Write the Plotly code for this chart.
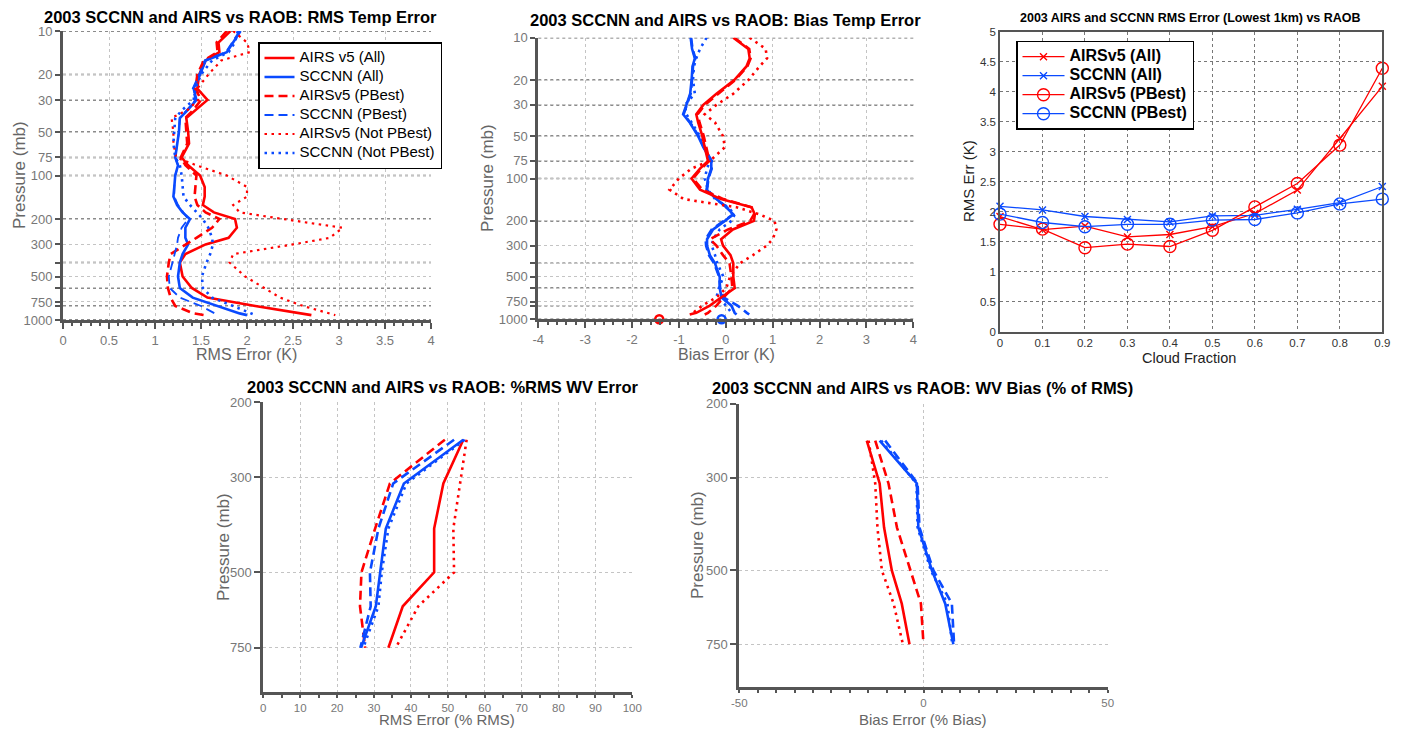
import math
import plotly.graph_objects as go

# ---------------- DATA ----------------
# Temperature profiles (pressure levels, mb)
P_T = [10, 12, 14, 16, 20, 25, 30, 35, 40, 50, 60, 75, 85, 100, 120, 140, 160, 180,
       200, 230, 270, 300, 350, 400, 500, 600, 700, 800, 900, 925]

# RMS temperature error (K)
rms_airs_all = [1.82, 1.69, 1.70, 1.55, 1.48, 1.46, 1.57, 1.45, 1.34, 1.36, 1.37, 1.29, 1.36, 1.49, 1.54,
                1.54, 1.52, 1.64, 1.87, 1.89, 1.80, 1.55, 1.33, 1.27, 1.30, 1.40, 1.57, 2.09, 2.59, 2.70]
rms_sccnn_all = [1.93, 1.85, 1.78, 1.55, 1.49, 1.42, 1.45, 1.36, 1.27, 1.26, 1.24, 1.22, 1.25, 1.22, 1.21,
                 1.20, 1.24, 1.30, 1.38, 1.33, 1.33, 1.36, 1.30, 1.27, 1.25, 1.27, 1.41, 1.67, 1.92, 2.00]
rms_airs_pb = [1.78, 1.67, 1.68, 1.53, 1.46, 1.44, 1.50, 1.42, 1.33, 1.34, 1.35, 1.28, 1.33, 1.45, 1.44,
               1.43, 1.46, 1.55, 1.70, 1.62, 1.45, 1.33, 1.17, 1.15, 1.13, 1.14, 1.17, 1.22, 1.42, 1.53]
rms_sccnn_pb = [1.92, 1.84, 1.77, 1.54, 1.48, 1.41, 1.44, 1.35, 1.27, 1.26, 1.24, 1.22, 1.25, 1.22, 1.21,
                1.21, 1.25, 1.31, 1.36, 1.29, 1.25, 1.24, 1.21, 1.19, 1.15, 1.16, 1.27, 1.50, 1.65, 1.69]
rms_airs_npb = [1.85, 2.00, 2.03, 1.72, 1.58, 1.46, 1.47, 1.36, 1.18, 1.20, 1.20, 1.23, 1.45, 1.78, 2.00,
                2.00, 1.85, 1.92, 2.39, 3.04, 2.90, 2.50, 1.85, 1.81, 1.98, 2.18, 2.36, 2.61, 2.90, 2.96]
rms_sccnn_npb = [1.90, 1.87, 1.80, 1.62, 1.50, 1.44, 1.42, 1.30, 1.22, 1.21, 1.20, 1.22, 1.27, 1.29, 1.30,
                 1.31, 1.38, 1.45, 1.52, 1.58, 1.62, 1.63, 1.60, 1.56, 1.51, 1.52, 1.62, 1.85, 2.05, 2.09]

# Bias temperature error (K)
bias_airs_all = [0.16, 0.48, 0.51, 0.44, 0.18, -0.20, -0.48, -0.63, -0.59, -0.50, -0.45, -0.38, -0.55, -0.73,
                 -0.55, -0.10, 0.55, 0.62, 0.60, 0.15, -0.10, -0.06, 0.10, 0.16, 0.16, 0.19, -0.10, -0.34,
                 -0.63, -0.77]
bias_sccnn_all = [-0.75, -0.72, -0.66, -0.71, -0.73, -0.76, -0.84, -0.91, -0.77, -0.59, -0.48, -0.31, -0.31,
                  -0.38, -0.41, -0.20, 0.01, 0.16, -0.02, -0.27, -0.40, -0.40, -0.34, -0.23, -0.13, -0.13,
                  -0.09, 0.12, 0.19, 0.23]
bias_airs_pb = [0.18, 0.50, 0.53, 0.46, 0.20, -0.17, -0.45, -0.60, -0.56, -0.47, -0.42, -0.35, -0.52, -0.70,
                -0.50, -0.05, 0.55, 0.60, 0.52, 0.05, -0.34, -0.20, -0.06, 0.08, 0.12, 0.14, -0.05, -0.20,
                -0.38, -0.45]
bias_sccnn_pb = [-0.74, -0.71, -0.65, -0.70, -0.72, -0.75, -0.83, -0.90, -0.76, -0.58, -0.47, -0.30, -0.30,
                 -0.37, -0.40, -0.19, 0.02, 0.15, -0.04, -0.30, -0.43, -0.42, -0.36, -0.25, -0.14, -0.12,
                 -0.05, 0.25, 0.45, 0.50]
bias_airs_npb = [0.51, 0.85, 0.88, 0.72, 0.48, 0.16, -0.20, -0.45, -0.23, -0.06, -0.02, -0.34, -0.73, -1.00,
                 -1.20, -0.90, 0.23, 0.72, 1.04, 1.08, 1.00, 0.87, 0.58, 0.30, 0.09, 0.01, -0.20, -0.50,
                 -0.70, -0.75]
bias_sccnn_npb = [-0.41, -0.55, -0.63, -0.68, -0.70, -0.66, -0.87, -0.84, -0.73, -0.55, -0.45, -0.34, -0.40,
                  -0.45, -0.38, -0.23, 0.05, 0.19, 0.12, -0.13, -0.27, -0.30, -0.23, -0.18, -0.05, -0.15,
                  -0.20, 0.01, 0.12, 0.15]
# surface bias markers
sfc_p = [1000]
sfc_bias_airs = [-1.42]
sfc_bias_sccnn = [-0.09]

# RMS error (lowest 1 km) vs cloud fraction
cloud_frac = [0, 0.1, 0.2, 0.3, 0.4, 0.5, 0.6, 0.7, 0.8, 0.9]
cf_airs_all = [1.92, 1.70, 1.76, 1.58, 1.62, 1.75, 1.97, 2.36, 3.22, 4.09]
cf_sccnn_all = [2.09, 2.03, 1.92, 1.87, 1.83, 1.93, 1.94, 2.04, 2.15, 2.42]
cf_airs_pb = [1.79, 1.71, 1.40, 1.46, 1.42, 1.69, 2.08, 2.47, 3.11, 4.39]
cf_sccnn_pb = [1.96, 1.82, 1.75, 1.79, 1.79, 1.86, 1.87, 1.98, 2.13, 2.21]

# Water vapour profiles
P_WV = [245, 310, 395, 500, 600, 750]
wv_rms_airs_all = [54.2, 48.8, 46.3, 46.3, 37.8, 33.9]
wv_rms_sccnn_all = [54.2, 38.1, 33.2, 31.6, 30.5, 26.5]
wv_rms_airs_pb = [49.2, 34.3, 30.3, 26.6, 26.2, 27.6]
wv_rms_sccnn_pb = [51.7, 35.2, 31.2, 28.9, 29.1, 26.3]
wv_rms_airs_npb = [55.1, 53.3, 51.5, 51.7, 42.0, 35.9]
wv_rms_sccnn_npb = [54.6, 38.8, 33.9, 32.1, 31.2, 27.1]

wv_bias_airs_all = [-15.4, -11.9, -10.7, -8.6, -5.9, -3.8]
wv_bias_sccnn_all = [-11.9, -1.8, -1.4, 2.3, 5.9, 8.1]
wv_bias_airs_pb = [-13.1, -9.5, -7.2, -3.6, -0.7, 0.0]
wv_bias_sccnn_pb = [-10.4, -1.6, -1.1, 2.7, 7.7, 8.3]
wv_bias_airs_npb = [-14.9, -13.1, -12.5, -11.3, -8.1, -5.6]
wv_bias_sccnn_npb = [-11.5, -1.9, -1.6, 2.0, 6.5, 7.8]

T_TICKS = [10, 20, 30, 50, 75, 100, 200, 300, 400, 500, 600, 750, 800, 1000]
T_TICKTEXT = ['10', '20', '30', '50', '75', '100', '200', '300', '', '500', '', '750', '', '1000']
T_DARK = [10, 20, 30, 50, 75, 100, 200, 400, 600, 800, 1000]
WV_TICKS = [200, 300, 500, 750]

# ---------------- STYLE ----------------
W, H = 1402, 729
FONT = "Arial, Liberation Sans, sans-serif"
RED = "#ff0000"
BLUE = "#0a4aff"
DASH = "9px,5px"
DOT = "2.5px,4.5px"
AX = "#555555"


def xd(a, b):
    return [a / W, b / W]


def yd(top, bot):
    return [1 - bot / H, 1 - top / H]


def lg(name, bold=False, size=15):
    s = '<span style="font-size:%dpx">%s</span>' % (size, name)
    return '<b>%s</b>' % s if bold else s


fig = go.Figure()


def line(x, y, color, dash, name, ax, legend=None, width=2.6):
    fig.add_trace(go.Scatter(
        x=x, y=y, mode='lines', name=lg(name) if legend else name,
        line=dict(color=color, dash=dash, width=width),
        xaxis='x' + ax, yaxis='y' + ax,
        showlegend=legend is not None, legend=legend or 'legend'))


# Panel 1 – RMS temp
line(rms_airs_all, P_T, RED, 'solid', 'AIRS v5 (All)', '', 'legend')
line(rms_sccnn_all, P_T, BLUE, 'solid', 'SCCNN (All)', '', 'legend')
line(rms_airs_pb, P_T, RED, DASH, 'AIRSv5 (PBest)', '', 'legend')
line(rms_sccnn_pb, P_T, BLUE, DASH, 'SCCNN (PBest)', '', 'legend', width=1.8)
line(rms_airs_npb, P_T, RED, DOT, 'AIRSv5 (Not PBest)', '', 'legend', width=2.2)
line(rms_sccnn_npb, P_T, BLUE, DOT, 'SCCNN (Not PBest)', '', 'legend')

# Panel 2 – Bias temp
line(bias_sccnn_npb, P_T, BLUE, DOT, 'SCCNN (Not PBest)', '2')
line(bias_sccnn_pb, P_T, BLUE, DASH, 'SCCNN (PBest)', '2')
line(bias_sccnn_all, P_T, BLUE, 'solid', 'SCCNN (All)', '2')
line(bias_airs_npb, P_T, RED, DOT, 'AIRSv5 (Not PBest)', '2')
line(bias_airs_pb, P_T, RED, DASH, 'AIRSv5 (PBest)', '2')
line(bias_airs_all, P_T, RED, 'solid', 'AIRS v5 (All)', '2')
for xs, c in [(sfc_bias_airs, RED), (sfc_bias_sccnn, BLUE)]:
    fig.add_trace(go.Scatter(x=xs, y=sfc_p, mode='markers', xaxis='x2', yaxis='y2', showlegend=False,
                             cliponaxis=False,
                             marker=dict(symbol='circle-open', size=8, color=c, line=dict(width=2.5, color=c))))

# Panel 3 – cloud fraction
for ys, c, sym, sz, nm in [(cf_airs_all, RED, 'x-thin-open', 7, 'AIRSv5 (All)'),
                           (cf_sccnn_all, BLUE, 'x-thin-open', 7, 'SCCNN (All)'),
                           (cf_airs_pb, RED, 'circle-open', 12, 'AIRSv5 (PBest)'),
                           (cf_sccnn_pb, BLUE, 'circle-open', 12, 'SCCNN (PBest)')]:
    fig.add_trace(go.Scatter(x=cloud_frac, y=ys, mode='lines+markers', name=lg(nm, True, 16),
                             xaxis='x3', yaxis='y3', legend='legend2', cliponaxis=False,
                             line=dict(color=c, width=1.3),
                             marker=dict(symbol=sym, size=sz, color=c, line=dict(width=1.4, color=c))))

# Panel 4 – WV RMS
line(wv_rms_airs_all, P_WV, RED, 'solid', 'AIRS v5 (All)', '4')
line(wv_rms_airs_npb, P_WV, RED, DOT, 'AIRSv5 (Not PBest)', '4')
line(wv_rms_airs_pb, P_WV, RED, DASH, 'AIRSv5 (PBest)', '4')
line(wv_rms_sccnn_npb, P_WV, BLUE, DOT, 'SCCNN (Not PBest)', '4')
line(wv_rms_sccnn_pb, P_WV, BLUE, DASH, 'SCCNN (PBest)', '4')
line(wv_rms_sccnn_all, P_WV, BLUE, 'solid', 'SCCNN (All)', '4')

# Panel 5 – WV bias
line(wv_bias_airs_all, P_WV, RED, 'solid', 'AIRS v5 (All)', '5')
line(wv_bias_airs_npb, P_WV, RED, DOT, 'AIRSv5 (Not PBest)', '5')
line(wv_bias_airs_pb, P_WV, RED, DASH, 'AIRSv5 (PBest)', '5')
line(wv_bias_sccnn_npb, P_WV, BLUE, DOT, 'SCCNN (Not PBest)', '5')
line(wv_bias_sccnn_pb, P_WV, BLUE, DASH, 'SCCNN (PBest)', '5')
line(wv_bias_sccnn_all, P_WV, BLUE, 'solid', 'SCCNN (All)', '5')

# ---------------- AXES ----------------
base = dict(showline=True, linecolor=AX, linewidth=3, ticks='outside', tickcolor=AX, tickwidth=2,
            ticklen=6, showgrid=True, gridcolor='#c4c4c4', griddash='dot', gridwidth=1,
            zeroline=False, tickfont=dict(family=FONT, size=13, color='#777777'),
            fixedrange=True, automargin=False)


def temp_y(dom, anchor):
    d = dict(base)
    d.update(type='log', range=[3, 1], tickmode='array', tickvals=T_TICKS, ticktext=T_TICKTEXT,
             domain=dom, anchor=anchor, ticklen=5)
    return d


def wv_y(dom, anchor):
    d = dict(base)
    d.update(type='log', range=[math.log10(950), math.log10(200)], tickmode='array', tickvals=WV_TICKS,
             domain=dom, anchor=anchor, ticklen=6)
    return d


def xax(dom, anchor, rng, **kw):
    d = dict(base)
    d.update(domain=dom, anchor=anchor, range=rng)
    d.update(kw)
    return d


minor_style = dict(ticks='outside', ticklen=3, tickwidth=2, tickcolor=AX, showgrid=False)
box3 = dict(showline=True, mirror=True, linecolor='#555', linewidth=1.5, showgrid=True, gridcolor='#777',
            griddash='dot', gridwidth=1, zeroline=False, ticks='',
            tickfont=dict(family=FONT, size=11.5, color='#333'), fixedrange=True, automargin=False)
small_tf = dict(family=FONT, size=11.5, color='#777777')

fig.update_layout(
    xaxis=xax(xd(63, 431), 'y', [0, 4], dtick=0.5, tick0=0, minor=dict(dtick=0.1, **minor_style)),
    yaxis=temp_y(yd(31, 320), 'x'),
    xaxis2=xax(xd(538.3, 913.3), 'y2', [-4, 4], tickmode='array', tickvals=list(range(-4, 5)),
               ticktext=[str(v) for v in range(-4, 5)], minor=dict(dtick=0.2, tick0=0, **minor_style)),
    yaxis2=temp_y(yd(37.7, 319.3), 'x2'),
    xaxis3=dict(domain=xd(1000, 1382.3), anchor='y3', range=[0, 0.9], dtick=0.1, **box3),
    yaxis3=dict(domain=yd(31.7, 331.7), anchor='x3', range=[0, 5], dtick=0.5, **box3),
    xaxis4=xax(xd(263.3, 632.3), 'y4', [0, 100], dtick=10, tick0=0, tickfont=small_tf, ticklen=3,
               minor=dict(dtick=5, **minor_style)),
    yaxis4=wv_y(yd(402, 691.7), 'x4'),
    xaxis5=xax(xd(739.3, 1107.7), 'y5', [-50, 50], tickmode='array', tickvals=[-50, 0, 50],
               ticktext=['-50', '0', '50'], tickfont=small_tf, ticklen=3,
               minor=dict(dtick=5, tick0=0, **minor_style)),
    yaxis5=wv_y(yd(403.7, 687.3), 'x5'),
)

# darker horizontal dotted grid lines (panels 1 and 2)
shapes = []
for ax in ['', '2']:
    for p in T_DARK:
        shapes.append(dict(type='line', xref='x' + ax + ' domain', yref='y' + ax, x0=0, x1=1, y0=p, y1=p,
                           layer='below', line=dict(color='#666', width=1.5, dash='dot')))
fig.update_layout(shapes=shapes)

# ---------------- TEXT ----------------
ann = []


def text(x, y, s, size, color='#000', angle=0, bold=False, yanchor='middle'):
    ann.append(dict(x=x / W, y=1 - y / H, xref='paper', yref='paper', showarrow=False,
                    text=('<b>%s</b>' % s) if bold else s, textangle=angle,
                    font=dict(family=FONT, size=size, color=color), xanchor='center', yanchor=yanchor))


text(240, 17, '2003 SCCNN and AIRS vs RAOB: RMS Temp Error', 16.5, bold=True)
text(725, 20, '2003 SCCNN and AIRS vs RAOB: Bias Temp Error', 16.5, bold=True)
text(1190, 18, '2003 AIRS and SCCNN RMS Error (Lowest 1km) vs RAOB', 12.5, bold=True)
text(442, 387, '2003 SCCNN and AIRS vs RAOB: %RMS WV Error', 16.5, bold=True)
text(922, 388, '2003 SCCNN and AIRS vs RAOB: WV Bias (% of RMS)', 16.5, bold=True)

GRAY = '#666666'
text(19, 175, 'Pressure (mb)', 17, GRAY, -90)
text(247, 354, 'RMS Error (K)', 16, GRAY)
text(488, 178, 'Pressure (mb)', 17, GRAY, -90)
text(726, 354, 'Bias Error (K)', 16, GRAY)
text(969, 181, 'RMS Err (K)', 15, '#222', -90)
text(1189, 358, 'Cloud Fraction', 14.5, '#222')
text(223, 547, 'Pressure (mb)', 17, GRAY, -90)
text(447, 730, 'RMS Error (% RMS)', 15, GRAY, yanchor='bottom')
text(697, 545, 'Pressure (mb)', 17, GRAY, -90)
text(923, 730, 'Bias Error (% Bias)', 15, GRAY, yanchor='bottom')

fig.update_layout(
    annotations=ann,
    width=W, height=H, margin=dict(l=0, r=0, t=0, b=0, autoexpand=False),
    paper_bgcolor='white', plot_bgcolor='white',
    font=dict(family=FONT),
    legend=dict(x=258 / W, y=1 - 42 / H, xanchor='left', yanchor='top', bgcolor='white',
                bordercolor='black', borderwidth=1.5, font=dict(family=FONT, size=11, color='black'),
                tracegroupgap=0, itemwidth=30),
    legend2=dict(x=1016 / W, y=1 - 40.7 / H, xanchor='left', yanchor='top', bgcolor='white',
                 bordercolor='black', borderwidth=1.5,
                 font=dict(family=FONT, size=11.5, color='black'),
                 tracegroupgap=0, itemwidth=42),
)

fig.write_html("out.html", config={'displayModeBar': False},
               post_script="document.body.style.margin='0';document.body.style.padding='0';"
                           "document.body.style.overflow='hidden';")
